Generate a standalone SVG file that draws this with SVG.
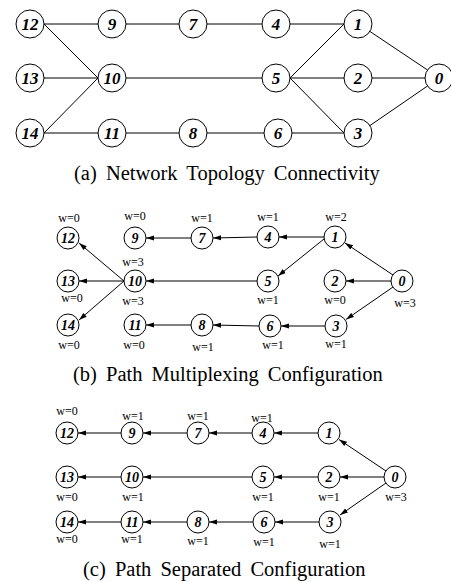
<svg xmlns="http://www.w3.org/2000/svg" width="451" height="582" viewBox="0 0 451 582">
<style>
.n circle{fill:#fff;stroke:#000;stroke-width:1}
.big text{font-family:"Liberation Serif",serif;font-weight:bold;font-style:italic;font-size:17px;text-anchor:middle}
.sm text{font-family:"Liberation Serif",serif;font-weight:bold;font-style:italic;font-size:14px;text-anchor:middle}
.e line{stroke:#000;stroke-width:1;fill:none}
.a line{marker-end:url(#ah)}
.w{font-family:"Liberation Serif",serif;font-size:12px;text-anchor:middle;fill:#000}
.cap{font-family:"Liberation Serif",serif;font-size:20.5px;word-spacing:4px;fill:#000}
</style>
<defs>
<marker id="ah" markerUnits="userSpaceOnUse" markerWidth="9" markerHeight="6" refX="8" refY="3" orient="auto">
<path d="M0,0.5 L8,3 L0,5.5 z" fill="#000"/>
</marker>
</defs>

<!-- (a) topology -->
<g id="conn-a" class="e">
<line x1="44" y1="24" x2="98" y2="24"/>
<line x1="126" y1="24" x2="179" y2="24"/>
<line x1="207" y1="24" x2="262" y2="24"/>
<line x1="290" y1="24" x2="344" y2="24"/>
<line x1="44" y1="24" x2="98" y2="78"/>
<line x1="44" y1="78" x2="98" y2="78"/>
<line x1="44" y1="133" x2="98" y2="78"/>
<line x1="126" y1="78" x2="262" y2="78"/>
<line x1="44" y1="133" x2="98" y2="133"/>
<line x1="126" y1="133" x2="179" y2="133"/>
<line x1="207" y1="133" x2="264" y2="133"/>
<line x1="292" y1="133" x2="344" y2="133"/>
<line x1="290" y1="78" x2="344" y2="24"/>
<line x1="290" y1="78" x2="344" y2="78"/>
<line x1="290" y1="78" x2="344" y2="133"/>
<line x1="372" y1="78" x2="425" y2="78"/>
<line x1="370" y1="31.5" x2="427.5" y2="70"/>
<line x1="370" y1="125.5" x2="427.5" y2="86"/>
</g>
<g class="n big">
<g id="a12"><circle cx="30" cy="24" r="14"/><text x="30" y="30">12</text></g>
<g id="a9"><circle cx="112" cy="24" r="14"/><text x="112" y="30">9</text></g>
<g id="a7"><circle cx="193" cy="24" r="14"/><text x="193" y="30">7</text></g>
<g id="a4"><circle cx="276" cy="24" r="14"/><text x="276" y="30">4</text></g>
<g id="a1"><circle cx="358" cy="24" r="14"/><text x="358" y="30">1</text></g>
<g id="a13"><circle cx="30" cy="78" r="14"/><text x="30" y="84">13</text></g>
<g id="a10"><circle cx="112" cy="78" r="14"/><text x="112" y="84">10</text></g>
<g id="a5"><circle cx="276" cy="78" r="14"/><text x="276" y="84">5</text></g>
<g id="a2"><circle cx="358" cy="78" r="14"/><text x="358" y="84">2</text></g>
<g id="a0"><circle cx="439" cy="78" r="14"/><text x="439" y="84">0</text></g>
<g id="a14"><circle cx="30" cy="133" r="14"/><text x="30" y="139">14</text></g>
<g id="a11"><circle cx="112" cy="133" r="14"/><text x="112" y="139">11</text></g>
<g id="a8"><circle cx="193" cy="133" r="14"/><text x="193" y="139">8</text></g>
<g id="a6"><circle cx="278" cy="133" r="14"/><text x="278" y="139">6</text></g>
<g id="a3"><circle cx="358" cy="133" r="14"/><text x="358" y="139">3</text></g>
</g>
<text class="cap" x="74" y="180">(a) Network Topology Connectivity</text>

<!-- (b) multiplexing -->
<g id="conn-b" class="e a">
<line x1="191" y1="238" x2="146" y2="238"/>
<line x1="257" y1="237" x2="213" y2="238"/>
<line x1="324" y1="237" x2="279" y2="237"/>
<line x1="324" y1="239" x2="278" y2="276"/>
<line x1="393" y1="275" x2="345" y2="243"/>
<line x1="391" y1="281" x2="346" y2="281"/>
<line x1="393" y1="287" x2="346" y2="319.5"/>
<line x1="325" y1="326" x2="281" y2="326"/>
<line x1="259" y1="326" x2="213" y2="325"/>
<line x1="191" y1="325" x2="146" y2="325"/>
<line x1="257" y1="281" x2="146" y2="281"/>
<line x1="124" y1="281" x2="79" y2="243"/>
<line x1="124" y1="281" x2="79" y2="281"/>
<line x1="124" y1="281" x2="79" y2="320"/>
</g>
<g class="n sm">
<g id="b12"><circle cx="68" cy="238" r="11"/><text x="68" y="243">12</text></g>
<g id="b9"><circle cx="135" cy="238" r="11"/><text x="135" y="243">9</text></g>
<g id="b7"><circle cx="202" cy="238" r="11"/><text x="202" y="243">7</text></g>
<g id="b4"><circle cx="268" cy="237" r="11"/><text x="268" y="242">4</text></g>
<g id="b1"><circle cx="335" cy="237" r="11"/><text x="335" y="242">1</text></g>
<g id="b13"><circle cx="68" cy="281" r="11"/><text x="68" y="286">13</text></g>
<g id="b10"><circle cx="135" cy="281" r="11"/><text x="135" y="286">10</text></g>
<g id="b5"><circle cx="268" cy="281" r="11"/><text x="268" y="286">5</text></g>
<g id="b2"><circle cx="335" cy="281" r="11"/><text x="335" y="286">2</text></g>
<g id="b0"><circle cx="402" cy="281" r="11"/><text x="402" y="286">0</text></g>
<g id="b14"><circle cx="68" cy="325" r="11"/><text x="68" y="330">14</text></g>
<g id="b11"><circle cx="135" cy="325" r="11"/><text x="135" y="330">11</text></g>
<g id="b8"><circle cx="202" cy="325" r="11"/><text x="202" y="330">8</text></g>
<g id="b6"><circle cx="270" cy="326" r="11"/><text x="270" y="331">6</text></g>
<g id="b3"><circle cx="336" cy="326" r="11"/><text x="336" y="331">3</text></g>
</g>
<g id="wb">
<text class="w" x="69" y="222">w=0</text>
<text class="w" x="135" y="220">w=0</text>
<text class="w" x="202" y="222">w=1</text>
<text class="w" x="268" y="221">w=1</text>
<text class="w" x="336" y="221">w=2</text>
<text class="w" x="133" y="266">w=3</text>
<text class="w" x="72" y="302">w=0</text>
<text class="w" x="133" y="305">w=3</text>
<text class="w" x="268" y="304">w=1</text>
<text class="w" x="335" y="304">w=0</text>
<text class="w" x="405" y="307">w=3</text>
<text class="w" x="69" y="349">w=0</text>
<text class="w" x="134" y="349">w=0</text>
<text class="w" x="203" y="351">w=1</text>
<text class="w" x="273" y="349">w=1</text>
<text class="w" x="336" y="348">w=1</text>
</g>
<text class="cap" x="73" y="381">(b) Path Multiplexing Configuration</text>

<!-- (c) separated -->
<g id="conn-c" class="e a">
<line x1="121" y1="433" x2="78" y2="433"/>
<line x1="187" y1="433" x2="143" y2="433"/>
<line x1="252" y1="433" x2="209" y2="433"/>
<line x1="318" y1="433" x2="274" y2="433"/>
<line x1="386" y1="471" x2="339" y2="439.5"/>
<line x1="121" y1="477" x2="78" y2="477"/>
<line x1="252" y1="477" x2="143" y2="477"/>
<line x1="318" y1="477" x2="274" y2="477"/>
<line x1="384" y1="477" x2="340" y2="477"/>
<line x1="121" y1="522" x2="78" y2="522"/>
<line x1="187" y1="522" x2="143" y2="522"/>
<line x1="253" y1="522" x2="209" y2="522"/>
<line x1="319" y1="522" x2="275" y2="522"/>
<line x1="386" y1="483" x2="340" y2="515"/>
</g>
<g class="n sm">
<g id="c12"><circle cx="67" cy="433" r="11"/><text x="67" y="438">12</text></g>
<g id="c9"><circle cx="132" cy="433" r="11"/><text x="132" y="438">9</text></g>
<g id="c7"><circle cx="198" cy="433" r="11"/><text x="198" y="438">7</text></g>
<g id="c4"><circle cx="263" cy="433" r="11"/><text x="263" y="438">4</text></g>
<g id="c1"><circle cx="329" cy="433" r="11"/><text x="329" y="438">1</text></g>
<g id="c13"><circle cx="67" cy="477" r="11"/><text x="67" y="482">13</text></g>
<g id="c10"><circle cx="132" cy="477" r="11"/><text x="132" y="482">10</text></g>
<g id="c5"><circle cx="263" cy="477" r="11"/><text x="263" y="482">5</text></g>
<g id="c2"><circle cx="329" cy="477" r="11"/><text x="329" y="482">2</text></g>
<g id="c0"><circle cx="395" cy="477" r="11"/><text x="395" y="482">0</text></g>
<g id="c14"><circle cx="67" cy="522" r="11"/><text x="67" y="527">14</text></g>
<g id="c11"><circle cx="132" cy="522" r="11"/><text x="132" y="527">11</text></g>
<g id="c8"><circle cx="198" cy="522" r="11"/><text x="198" y="527">8</text></g>
<g id="c6"><circle cx="264" cy="522" r="11"/><text x="264" y="527">6</text></g>
<g id="c3"><circle cx="330" cy="522" r="11"/><text x="330" y="527">3</text></g>
</g>
<g id="wc">
<text class="w" x="67" y="415">w=0</text>
<text class="w" x="133" y="420">w=1</text>
<text class="w" x="198" y="420">w=1</text>
<text class="w" x="262" y="422">w=1</text>
<text class="w" x="67" y="501">w=0</text>
<text class="w" x="133" y="501">w=1</text>
<text class="w" x="263" y="501">w=1</text>
<text class="w" x="329" y="501">w=1</text>
<text class="w" x="396" y="501">w=3</text>
<text class="w" x="67" y="543">w=0</text>
<text class="w" x="132" y="543">w=1</text>
<text class="w" x="198" y="545">w=1</text>
<text class="w" x="264" y="546">w=1</text>
<text class="w" x="330" y="548">w=1</text>
</g>
<text class="cap" x="83" y="576">(c) Path Separated Configuration</text>
</svg>
